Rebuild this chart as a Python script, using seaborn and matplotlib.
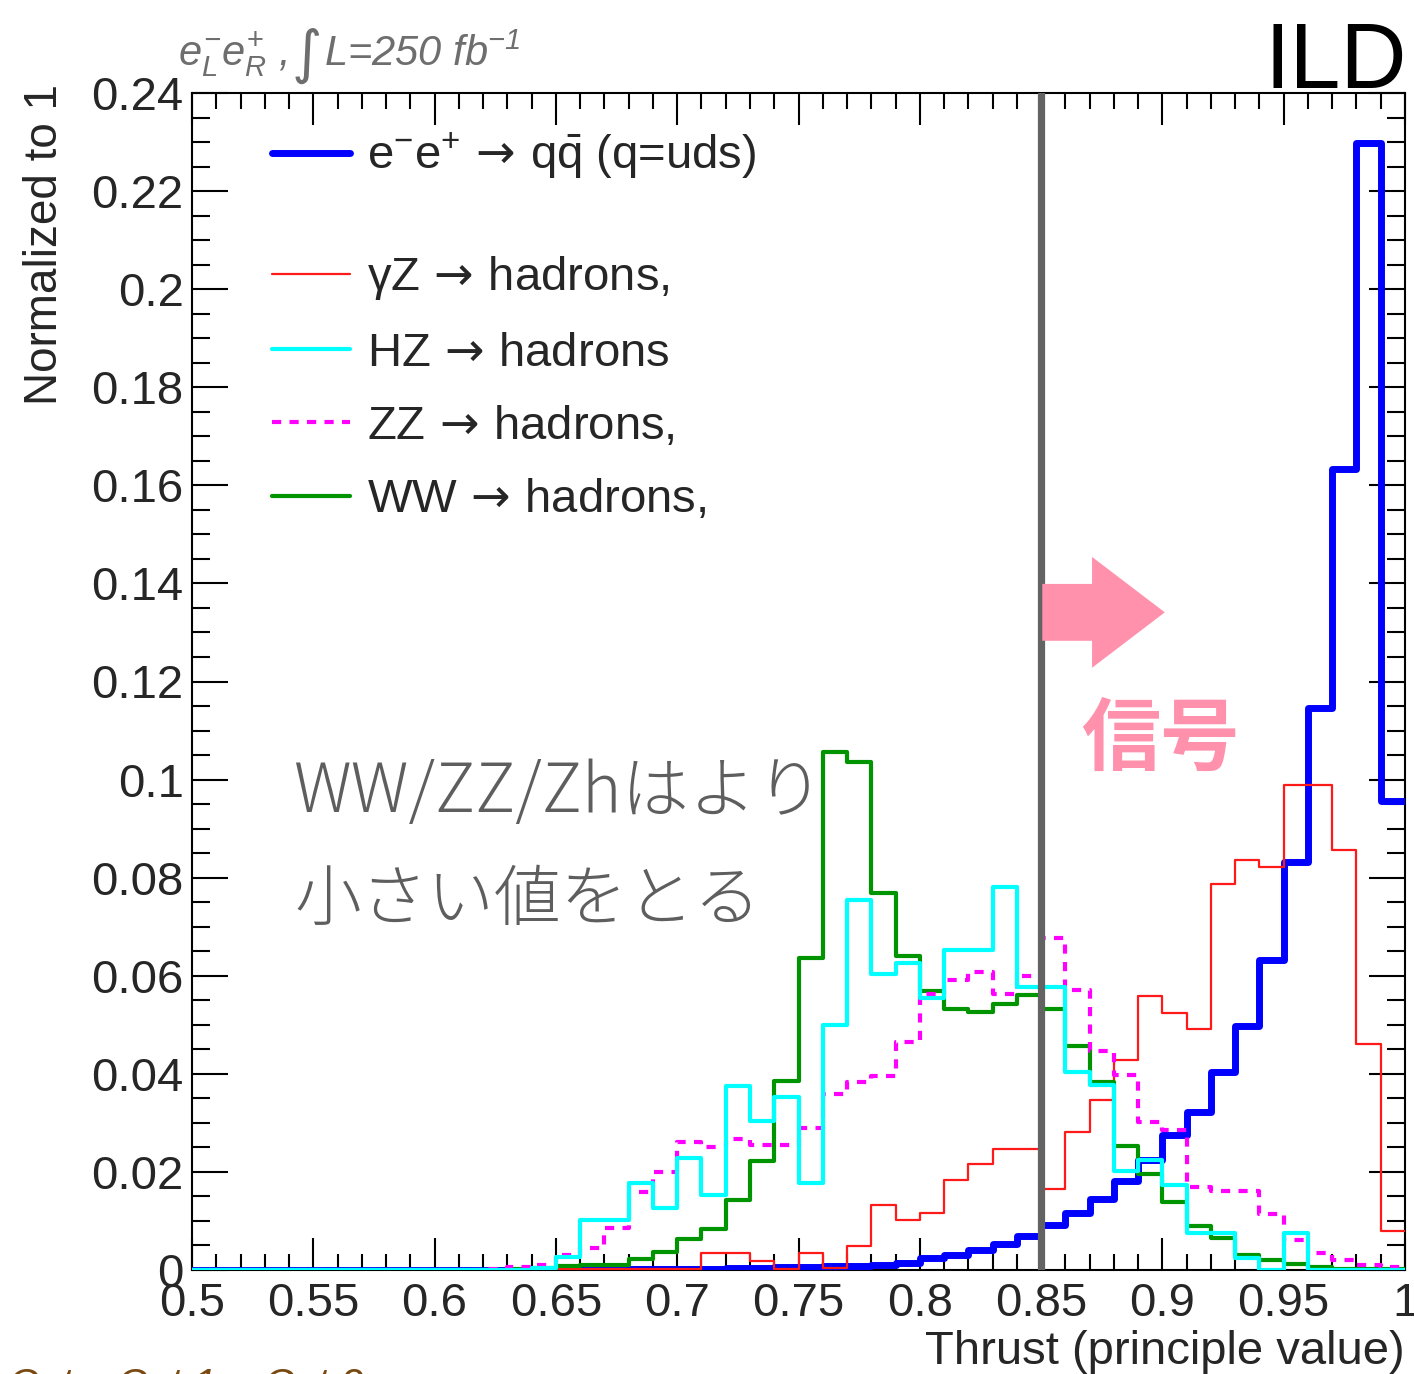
import numpy as np
import pandas as pd
import matplotlib
matplotlib.use("Agg")
import matplotlib.pyplot as plt
import matplotlib.patches as mpatches
from matplotlib.lines import Line2D
from matplotlib.ticker import MultipleLocator
import seaborn as sns

# ---- binning: thrust from 0.5 to 1.0 in 0.01 steps ----
bin_edges = [round(0.50 + 0.01 * i, 2) for i in range(51)]
bin_centers = [round(0.505 + 0.01 * i, 3) for i in range(50)]

# ---- normalized bin contents (50 bins each) ----
qq_uds = [0, 0, 0, 0, 0, 0, 0, 0, 0, 0,
          0, 0, 0, 0, 0.0001, 0.0001, 0.0001, 0.0001, 0.0002, 0.0002,
          0.0003, 0.0003, 0.0004, 0.0005, 0.0006, 0.0007, 0.0008, 0.0009, 0.0010, 0.0014,
          0.0024, 0.0031, 0.0041, 0.0053, 0.0069, 0.0092, 0.0116, 0.0144, 0.0181, 0.0224,
          0.0275, 0.0322, 0.0403, 0.0497, 0.0633, 0.0832, 0.1145, 0.1634, 0.2298, 0.0956]

gamma_z = [0, 0, 0, 0, 0, 0, 0, 0, 0, 0,
           0, 0, 0.0002, 0.0002, 0.0002, 0.0002, 0.0002, 0.0002, 0.0002, 0.0002,
           0.0002, 0.0034, 0.0034, 0.0019, 0.0003, 0.0034, 0.0005, 0.0049, 0.0133, 0.0101,
           0.0117, 0.0184, 0.0216, 0.0247, 0.0247, 0.0165, 0.0281, 0.0346, 0.0428, 0.0558,
           0.0524, 0.0491, 0.0787, 0.0837, 0.0822, 0.0988, 0.0988, 0.0856, 0.0460, 0.0080]

hz = [0, 0, 0, 0, 0, 0, 0, 0, 0, 0,
      0, 0, 0, 0, 0.0004, 0.0026, 0.0102, 0.0102, 0.0177, 0.0127,
      0.0228, 0.0152, 0.0376, 0.0303, 0.0352, 0.0178, 0.0500, 0.0755, 0.0604, 0.0627,
      0.0554, 0.0653, 0.0653, 0.0780, 0.0578, 0.0578, 0.0403, 0.0377, 0.0201, 0.0225,
      0.0173, 0.0075, 0.0075, 0.0025, 0.0, 0.0075, 0, 0, 0, 0]

zz = [0, 0, 0, 0, 0, 0, 0, 0, 0, 0,
      0, 0, 0.0002, 0.0007, 0.0010, 0.0031, 0.0044, 0.0085, 0.0160, 0.0199,
      0.0260, 0.0250, 0.0267, 0.0255, 0.0255, 0.0289, 0.0358, 0.0383, 0.0396, 0.0464,
      0.0563, 0.0592, 0.0607, 0.0563, 0.0600, 0.0677, 0.0570, 0.0447, 0.0398, 0.0302,
      0.0286, 0.0169, 0.0161, 0.0161, 0.0115, 0.0061, 0.0034, 0.0020, 0.0011, 0.0006]

ww = [0, 0, 0, 0, 0, 0, 0, 0, 0, 0,
      0, 0, 0, 0.0002, 0.0005, 0.0008, 0.0010, 0.0010, 0.0022, 0.0037,
      0.0063, 0.0083, 0.0143, 0.0223, 0.0386, 0.0636, 0.1056, 0.1036, 0.0768, 0.0641,
      0.0568, 0.0532, 0.0527, 0.0543, 0.0560, 0.0532, 0.0456, 0.0384, 0.0253, 0.0195,
      0.0138, 0.0090, 0.0065, 0.0031, 0.0021, 0.0012, 0.0006, 0.0003, 0.0003, 0.0003]

x_ticks = [0.5, 0.55, 0.6, 0.65, 0.7, 0.75, 0.8, 0.85, 0.9, 0.95, 1.0]
x_tick_labels = ["0.5", "0.55", "0.6", "0.65", "0.7", "0.75", "0.8", "0.85", "0.9", "0.95", "1"]
y_ticks = [0, 0.02, 0.04, 0.06, 0.08, 0.1, 0.12, 0.14, 0.16, 0.18, 0.2, 0.22, 0.24]
y_tick_labels = ["0", "0.02", "0.04", "0.06", "0.08", "0.1", "0.12", "0.14",
                 "0.16", "0.18", "0.2", "0.22", "0.24"]

cut_value = 0.85

ARROW = r"$\,\mathsf{\rightarrow}\,$"
legend_labels = [
    r"e$^{\mathregular{-}}$e$^{\mathregular{+}}$" + ARROW + r"q$\bar{\mathregular{q}}$ (q=uds)",
    "γZ" + ARROW + "hadrons,",
    "HZ" + ARROW + "hadrons",
    "ZZ" + ARROW + "hadrons,",
    "WW" + ARROW + "hadrons,",
]

# ---- style ----
sns.set_style("ticks")
plt.rcParams["font.family"] = ["Liberation Sans", "DejaVu Sans"]
plt.rcParams["mathtext.fontset"] = "custom"
plt.rcParams["mathtext.rm"] = "Liberation Sans"
plt.rcParams["mathtext.it"] = "Liberation Sans:italic"
plt.rcParams["mathtext.bf"] = "Liberation Sans:bold"
plt.rcParams["mathtext.sf"] = "DejaVu Sans"

W, H = 1414, 1374
fig = plt.figure(figsize=(W / 100, H / 100), dpi=100)
fig.patch.set_facecolor("white")

def fx(px):
    return px / W

def fy(py):
    return 1 - py / H

ax = fig.add_axes([fx(192), fy(1270), (1405 - 192) / W, (1270 - 93) / H])
ax.set_facecolor("white")

# long-form table of all processes
proc_names = ["qq_uds", "gamma_z", "hz", "zz", "ww"]
proc_values = [qq_uds, gamma_z, hz, zz, ww]
df = pd.DataFrame({
    "thrust": bin_centers * len(proc_names),
    "weight": [float(v) for vals in proc_values for v in vals],
    "process": [n for n in proc_names for _ in bin_centers],
})

styles = {
    "qq_uds": dict(color="#0000ff", linewidth=5.0, linestyle="-"),
    "gamma_z": dict(color="#ff1a1a", linewidth=1.6, linestyle="-"),
    "ww": dict(color="#009400", linewidth=3.0, linestyle="-"),
    "zz": dict(color="#ff00ff", linewidth=3.0, linestyle=(0, (2.2, 2.0))),
    "hz": dict(color="#00ffff", linewidth=3.0, linestyle="-"),
}
draw_order = ["qq_uds", "gamma_z", "ww", "zz", "hz"]
for z, name in enumerate(draw_order):
    sub = df[df["process"] == name].reset_index(drop=True)
    sns.histplot(data=sub, x="thrust", weights="weight",
                 bins=bin_edges, element="step", fill=False, ax=ax,
                 zorder=3 + z, **styles[name])

# cut line
ax.axvline(cut_value, color="#636363", linewidth=5.2, zorder=20)

# axes
ax.set_xlim(0.5, 1.0)
ax.set_ylim(0, 0.24)
ax.set_xlabel("")
ax.set_ylabel("")
ax.set_xticks(x_ticks, labels=x_tick_labels)
ax.set_yticks(y_ticks, labels=y_tick_labels)
ax.xaxis.set_minor_locator(MultipleLocator(0.01))
ax.yaxis.set_minor_locator(MultipleLocator(0.005))
ax.tick_params(axis="both", which="both", direction="in", top=True, right=True,
               width=1.5, color="black", labelsize=34)
ax.tick_params(axis="x", which="major", length=23, pad=9)
ax.tick_params(axis="x", which="minor", length=11.5)
ax.tick_params(axis="y", which="major", length=26, pad=6)
ax.tick_params(axis="y", which="minor", length=13)
for sp in ax.spines.values():
    sp.set_linewidth(1.5)
    sp.set_color("black")
    sp.set_visible(True)

# axis titles
fig.text(fx(1405), fy(1352), "Thrust (principle value)", ha="right", va="center",
         fontsize=34)
fig.text(fx(45), fy(84), "Normalized to 1", rotation=90, ha="center", va="top",
         fontsize=33)

# legend
handles = [Line2D([], [], **styles[n]) for n in proc_names]
leg1 = ax.legend(handles=handles[:1], labels=legend_labels[:1], loc="upper left",
                 bbox_to_anchor=(0.066, 0.968), frameon=False, fontsize=34,
                 handlelength=1.64, handletextpad=0.38, borderpad=0,
                 borderaxespad=0)
ax.add_artist(leg1)
ax.legend(handles=handles[1:], labels=legend_labels[1:], loc="upper left",
          bbox_to_anchor=(0.066, 0.863), frameon=False, fontsize=34,
          handlelength=1.64, handletextpad=0.38, borderpad=0, borderaxespad=0,
          labelspacing=0.62)

# header texts
grey = "#6e6e6e"
fig.text(fx(178), fy(66), r"$e^{\mathregular{-}}_{L}e^{+}_{R}$ ,",
         ha="left", va="baseline", fontsize=30, style="italic", color=grey)
fig.text(fx(292), fy(72), "∫", ha="left", va="baseline", fontsize=42,
         color=grey, family=["DejaVu Sans"])
fig.text(fx(324), fy(66), r"L=250 fb$^{\mathregular{-1}}$",
         ha="left", va="baseline", fontsize=30, style="italic", color=grey)
fig.text(fx(1407), fy(88), "ILD", ha="right", va="baseline", fontsize=66,
         color="black")
fig.text(fx(8), fy(1398), "Cuts: Cut 1 ~ Cut 2", ha="left", va="baseline",
         fontsize=30, style="italic", color="#7a4a12")

# annotations
jp = ["Noto Sans CJK JP", "DejaVu Sans"]
fig.text(fx(294), fy(793), "WW/ZZ/Zhはより", ha="left", va="center",
         fontsize=48.5, color="#5e5e5e", family=jp, fontweight="light")
fig.text(fx(294), fy(901), "小さい値をとる", ha="left", va="center",
         fontsize=48, color="#5e5e5e", family=jp, fontweight="light")
fig.text(fx(1160), fy(740), "信号", ha="center", va="center",
         fontsize=57, color="#ff91ad", family=jp, fontweight="bold")

arrow = mpatches.FancyArrow(0.8505, 0.1341, 0.0505, 0.0, width=0.0116,
                            head_width=0.0226, head_length=0.0300,
                            length_includes_head=True, color="#ff91ad",
                            linewidth=0, zorder=25)
ax.add_patch(arrow)

fig.savefig("out.png", dpi=100, facecolor="white")
